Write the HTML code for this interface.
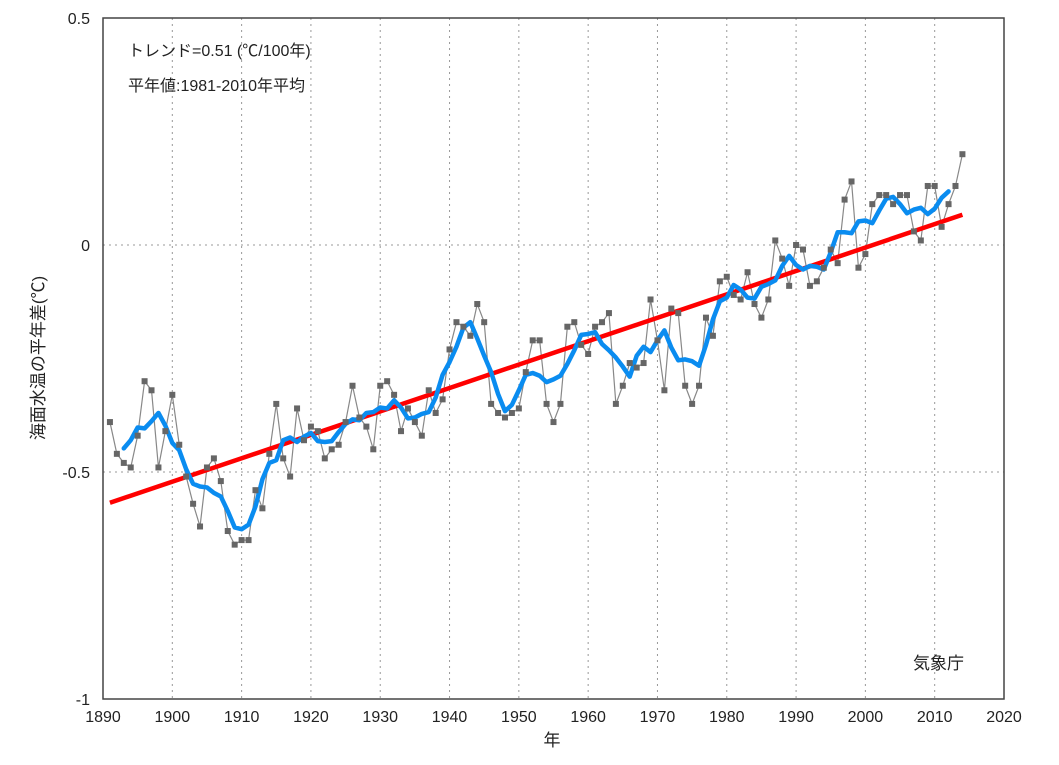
<!DOCTYPE html>
<html><head><meta charset="utf-8">
<style>
body{margin:0;background:#fff;}
svg text{font-family:"Liberation Sans","Noto Sans CJK JP",sans-serif;fill:#222;}
</style></head>
<body>
<svg id="chart" width="1059" height="760" xmlns="http://www.w3.org/2000/svg">
<g id="grid"></g>
<g id="axes"></g>
<g id="series"></g>
<text x="128" y="56" font-size="16">トレンド=0.51 (℃/100年)</text>
<text x="128" y="91" font-size="16">平年値:1981-2010年平均</text>
<text x="913" y="669" font-size="17">気象庁</text>
<text x="552" y="746" font-size="17" text-anchor="middle">年</text>
<text transform="translate(44,358) rotate(-90)" font-size="17" text-anchor="middle">海面水温の平年差(℃)</text>
</svg>
<script>
const startYear = 1891;
const anomalies = [-0.39,-0.46,-0.48,-0.49,-0.42,-0.30,-0.32,-0.49,-0.41,-0.33,
-0.44,-0.51,-0.57,-0.62,-0.49,-0.47,-0.52,-0.63,-0.66,-0.65,
-0.65,-0.54,-0.58,-0.46,-0.35,-0.47,-0.51,-0.36,-0.43,-0.40,
-0.41,-0.47,-0.45,-0.44,-0.39,-0.31,-0.38,-0.40,-0.45,-0.31,
-0.30,-0.33,-0.41,-0.36,-0.39,-0.42,-0.32,-0.37,-0.34,-0.23,
-0.17,-0.18,-0.20,-0.13,-0.17,-0.35,-0.37,-0.38,-0.37,-0.36,
-0.28,-0.21,-0.21,-0.35,-0.39,-0.35,-0.18,-0.17,-0.22,-0.24,
-0.18,-0.17,-0.15,-0.35,-0.31,-0.26,-0.27,-0.26,-0.12,-0.21,
-0.32,-0.14,-0.15,-0.31,-0.35,-0.31,-0.16,-0.20,-0.08,-0.07,
-0.11,-0.12,-0.06,-0.13,-0.16,-0.12,0.01,-0.03,-0.09,0.00,
-0.01,-0.09,-0.08,-0.05,-0.01,-0.04,0.10,0.14,-0.05,-0.02,
0.09,0.11,0.11,0.09,0.11,0.11,0.03,0.01,0.13,0.13,
0.04,0.09,0.13,0.20];
const xTicks = [1890,1900,1910,1920,1930,1940,1950,1960,1970,1980,1990,2000,2010,2020];
const yTicks = [0.5,0,-0.5,-1];
const yTickLabels = ["0.5","0","-0.5","-1"];

const L=103,R=1004,T=18,B=699;
const xS=y=>L+(y-1890)/130*(R-L);
const yS=v=>T+(0.5-v)/1.5*(B-T);
const NS="http://www.w3.org/2000/svg";
function mk(tag,attrs,parent){const e=document.createElementNS(NS,tag);for(const k in attrs)e.setAttribute(k,attrs[k]);parent.appendChild(e);return e;}
const grid=document.getElementById('grid'),axes=document.getElementById('axes'),ser=document.getElementById('series');

xTicks.forEach((t,i)=>{
  if(i>0&&i<xTicks.length-1){const g=mk('line',{x1:xS(t),x2:xS(t),y1:T,y2:B,stroke:'#999','stroke-dasharray':'2,4','stroke-width':1},grid);
  
  }
  const tx=mk('text',{x:xS(t),y:722,'font-size':16,'text-anchor':'middle'},axes);tx.textContent=t;
  
  
});
yTicks.forEach((t,i)=>{
  if(i>0&&i<yTicks.length-1){const g=mk('line',{x1:L,x2:R,y1:yS(t),y2:yS(t),stroke:'#999','stroke-dasharray':'2,4','stroke-width':1},grid);
  
  }
  const tx=mk('text',{x:90,y:yS(t)+6,'font-size':16,'text-anchor':'end'},axes);tx.textContent=yTickLabels[i];
  
  
});
const box=mk('rect',{x:L,y:T,width:R-L,height:B-T,fill:'none',stroke:'#444','stroke-width':1.5},axes);



const years=anomalies.map((v,i)=>startYear+i);
// annual line
const annual=mk('polyline',{points:anomalies.map((v,i)=>xS(years[i])+','+yS(v)).join(' '),fill:'none',stroke:'#888','stroke-width':1.2},ser);


// trend
const n=anomalies.length;let mx=0,my=0;years.forEach((y,i)=>{mx+=y;my+=anomalies[i];});mx/=n;my/=n;
let sxy=0,sxx=0;years.forEach((y,i)=>{sxy+=(y-mx)*(anomalies[i]-my);sxx+=(y-mx)*(y-mx);});
const slope=sxy/sxx,ic=my-slope*mx;
const y0=years[0],y1=years[n-1];
const trend=mk('line',{x1:xS(y0),y1:yS(ic+slope*y0),x2:xS(y1),y2:yS(ic+slope*y1),stroke:'#f00','stroke-width':4.5},ser);


// 5-year running mean
const rm=[];for(let i=2;i<n-2;i++){let s=0;for(let k=-2;k<=2;k++)s+=anomalies[i+k];rm.push(xS(years[i])+','+yS(s/5));}
const run=mk('polyline',{points:rm.join(' '),fill:'none',stroke:'#0a8cf0','stroke-width':4.5,'stroke-linejoin':'round','stroke-linecap':'round'},ser);


// markers
anomalies.forEach((v,i)=>{
  const r=mk('rect',{x:xS(years[i])-3,y:yS(v)-3,width:6,height:6,fill:'#666'},ser);
  
  
});
</script>
</body></html>
